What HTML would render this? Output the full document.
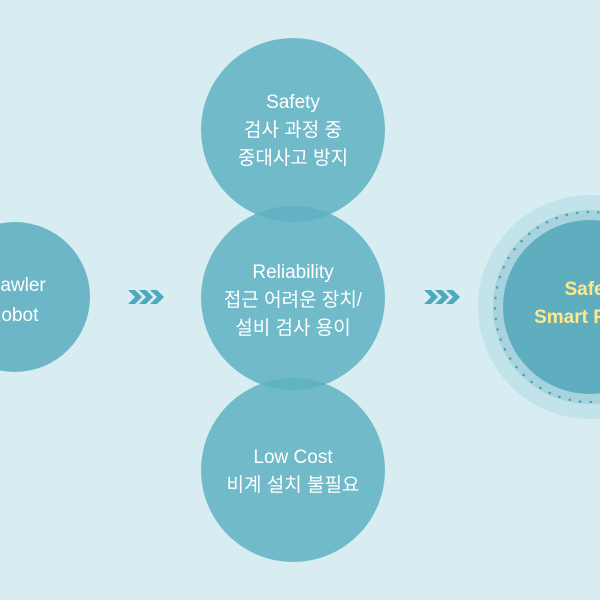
<!DOCTYPE html>
<html><head><meta charset="utf-8"><style>
html,body{margin:0;padding:0;background:#d7edf1;}
svg{display:block}
text{font-family:"Liberation Sans","Noto Sans CJK KR",sans-serif;font-size:19px;fill:#fff;text-anchor:middle}
</style></head><body>
<svg width="600" height="600" viewBox="0 0 600 600">
<rect width="600" height="600" fill="#d7edf1"/>
<circle cx="15" cy="297" r="75" fill="#6db6c7"/>
<text x="13" y="291">Crawler</text>
<text x="13" y="321">Robot</text>
<g fill="#4fa9bd">
<path d="M128 290 l7 0 l7 7 l-7 7 l-7 0 l7 -7z"/>
<path d="M139 290 l7 0 l7 7 l-7 7 l-7 0 l7 -7z"/>
<path d="M150 290 l7 0 l7 7 l-7 7 l-7 0 l7 -7z"/>
<path d="M424 290 l7 0 l7 7 l-7 7 l-7 0 l7 -7z"/>
<path d="M435 290 l7 0 l7 7 l-7 7 l-7 0 l7 -7z"/>
<path d="M446 290 l7 0 l7 7 l-7 7 l-7 0 l7 -7z"/>
</g>
<g fill="#5eb0c2" fill-opacity="0.85">
<circle cx="293" cy="130" r="92"/>
<circle cx="293" cy="298" r="92"/>
<circle cx="293" cy="470" r="92"/>
</g>
<text x="293" y="108">Safety</text>
<text x="293" y="136">검사 과정 중</text>
<text x="293" y="164">중대사고 방지</text>
<text x="293" y="278">Reliability</text>
<text x="293" y="306">접근 어려운 장치/</text>
<text x="293" y="334">설비 검사 용이</text>
<text x="293" y="463">Low Cost</text>
<text x="293" y="491">비계 설치 불필요</text>
<circle cx="590" cy="307" r="112" fill="#c3e3ea"/>
<circle cx="590" cy="307" r="97" fill="#a6d3de"/>
<circle cx="590" cy="307" r="95" fill="none" stroke="#4f9fb3" stroke-width="2.5" stroke-dasharray="0.1 10.5" stroke-linecap="round"/>
<circle cx="590" cy="307" r="87" fill="#5eaebf"/>
<text x="593" y="295" style="fill:#ffe98a;font-weight:bold;font-size:19px">Safety</text>
<text x="598" y="323" style="fill:#ffe98a;font-weight:bold;font-size:19px">Smart Factory</text>
</svg>
</body></html>
